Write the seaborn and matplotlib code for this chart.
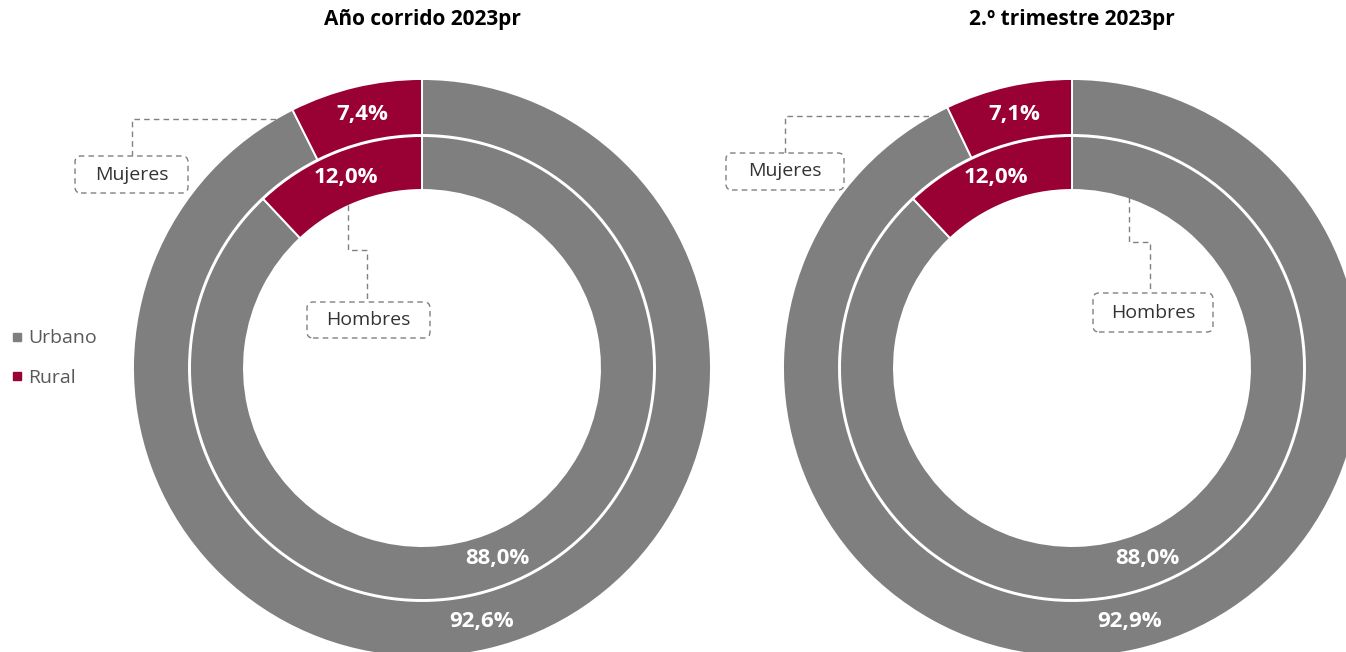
import matplotlib
matplotlib.use("Agg")
import matplotlib.pyplot as plt
from matplotlib.lines import Line2D
from matplotlib.patches import FancyBboxPatch
import seaborn as sns

# data
periods = ["Año corrido 2023pr", "2.º trimestre 2023pr"]
categories = ["Urbano", "Rural"]
mujeres = [[92.6, 7.4], [92.9, 7.1]]
hombres = [[88.0, 12.0], [88.0, 12.0]]

sns.set_theme(style="white")
plt.rcParams["font.family"] = ["Open Sans", "DejaVu Sans"]

colors = sns.color_palette(["#7f7f7f", "#990033"])
W, H = 1346, 652


def py(y):
    # pixel row -> data y
    return H - y


fig = plt.figure(figsize=(W / 100, H / 100), dpi=100)
ax = fig.add_axes([0, 0, 1, 1])

fmt = lambda p: f"{p:.1f}%".replace(".", ",")
centers = [(422, 368), (1072, 368)]
txt = dict(color="white", fontsize=16, fontweight="bold")
wedge_kw = dict(edgecolor="white", linewidth=1.4)

for i, (cx, cy) in enumerate(centers):
    ax.pie(mujeres[i], colors=colors, startangle=90, counterclock=False,
           center=(cx, py(cy)), radius=289, autopct=fmt, pctdistance=0.9,
           wedgeprops=dict(width=56, **wedge_kw), textprops=txt)
    ax.pie(hombres[i], colors=colors, startangle=90, counterclock=False,
           center=(cx, py(cy)), radius=232, autopct=fmt, pctdistance=0.885,
           wedgeprops=dict(width=54, **wedge_kw), textprops=txt)
    ax.text(cx, py(19), periods[i], ha="center", va="center",
            fontsize=15, fontweight="bold", color="black")

# callouts
line_kw = dict(color="#808080", lw=1, ls=(0, (4, 3)))
box_kw = dict(boxstyle="round,pad=0,rounding_size=6", fc="white",
              ec="#808080", lw=1, ls=(0, (4, 3)), zorder=5)
callouts = [
    # (label, box x0, y0, x1, y1, leader path in pixels)
    ("Mujeres", 75, 156, 188, 193, [(132, 156), (132, 119), (277, 119)]),
    ("Hombres", 307, 302, 430, 338, [(348, 205), (348, 250), (367, 250), (367, 302)]),
    ("Mujeres", 726, 153, 844, 190, [(785, 153), (785, 116), (940, 116)]),
    ("Hombres", 1093, 293, 1213, 332, [(1129, 197), (1129, 242), (1150, 242), (1150, 293)]),
]
for label, x0, y0, x1, y1, path in callouts:
    ax.plot([p[0] for p in path], [py(p[1]) for p in path], **line_kw)
    ax.add_patch(FancyBboxPatch((x0, py(y1)), x1 - x0, y1 - y0, **box_kw))
    ax.text((x0 + x1) / 2, py((y0 + y1) / 2), label, ha="center", va="center",
            fontsize=14, color="#333333", zorder=6)

handles = [Line2D([], [], marker="s", ls="", color=c, markersize=6) for c in colors]
fig.legend(handles, categories, loc="center left", bbox_to_anchor=(11 / W, 1 - 358 / H),
           frameon=False, fontsize=14, labelcolor="#595959", handlelength=0.6,
           handletextpad=0.3, labelspacing=1.1, borderpad=0, borderaxespad=0)

ax.set_xlim(0, W)
ax.set_ylim(0, H)
ax.set_aspect("equal")
ax.axis("off")

fig.savefig("out.png", dpi=100)
